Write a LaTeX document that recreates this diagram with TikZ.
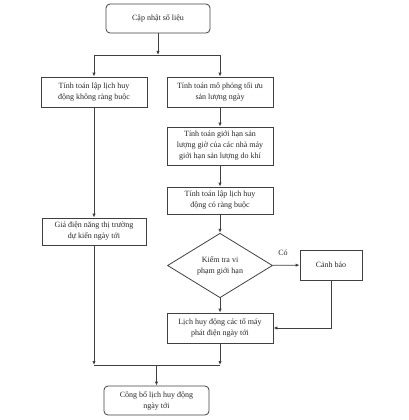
\documentclass[tikz,border=0pt]{standalone}
\usepackage{fontspec}
\setmainfont{Liberation Serif}
\usetikzlibrary{shapes.geometric,arrows.meta}
\definecolor{lc}{HTML}{404040}
\begin{document}
\begin{tikzpicture}[x=1pt,y=-1pt,
  every node/.style={font=\fontsize{8}{11}\selectfont, text=black!85},
  box/.style={draw=lc, line width=0.8pt, align=center, inner sep=0pt, rectangle},
  rbox/.style={box, rounded corners=4pt},
  dec/.style={draw=lc, line width=0.8pt, align=center, inner sep=0pt, diamond},
  ln/.style={draw=lc, line width=0.8pt},
  arr/.style={ln, -{Latex[length=4pt,width=3.4pt]}}]
\useasboundingbox (0,0) rectangle (409,420);
\node[rbox, minimum width=104, minimum height=29] (top) at (158,18.5) {Cập nhật số liệu};
\node[box, minimum width=106, minimum height=30] (a1) at (94,92) {Tính toán lập lịch huy\\động không ràng buộc};
\node[box, minimum width=106, minimum height=30] (b1) at (220,92) {Tính toán mô phỏng tối ưu\\sản lượng ngày};
\node[box, minimum width=106, minimum height=38] (b2) at (220,146) {Tính toán giới hạn sản\\lượng giờ của các nhà máy\\giới hạn sản lượng do khí};
\node[box, minimum width=106, minimum height=27] (b3) at (220,200.5) {Tính toán lập lịch huy\\động có ràng buộc};
\node[box, minimum width=104, minimum height=27] (a2) at (94,231.5) {Giá điện năng thị trường\\dự kiến ngày tới};
\node[dec, minimum width=105, minimum height=53] (dia) at (220,265.5) {Kiểm tra vi\\phạm giới hạn};
\node[box, minimum width=62, minimum height=30] (c) at (331,265) {Cảnh báo};
\node[box, minimum width=106, minimum height=30] (b4) at (220,328) {Lịch huy động các tổ máy\\phát điện ngày tới};
\node[rbox, minimum width=105, minimum height=29] (fin) at (156.5,400.5) {Công bố lịch huy động\\ngày tới};
\node (co) at (283,253) {Có};
\coordinate (s) at (158,55);
\coordinate (ml) at (94,365);
\coordinate (mr) at (220,365);
\coordinate (m) at (156.5,365);
\draw[arr] (top) -- (s);
\draw[arr] (s) -| (a1.north);
\draw[arr] (s) -| (b1.north);
\draw[arr] (b1) -- (b2);
\draw[arr] (b2) -- (b3);
\draw[arr] (b3) -- (dia);
\draw[arr] (dia) -- (b4);
\draw[arr] (dia) -- (c);
\draw[arr] (c.south) |- (b4.east);
\draw[arr] (a1) -- (a2);
\draw[arr] (a2) -- (ml);
\draw[arr] (b4) -- (mr);
\draw[ln] (ml) -- (mr);
\draw[arr] (m) -- (fin);
\end{tikzpicture}
\end{document}
